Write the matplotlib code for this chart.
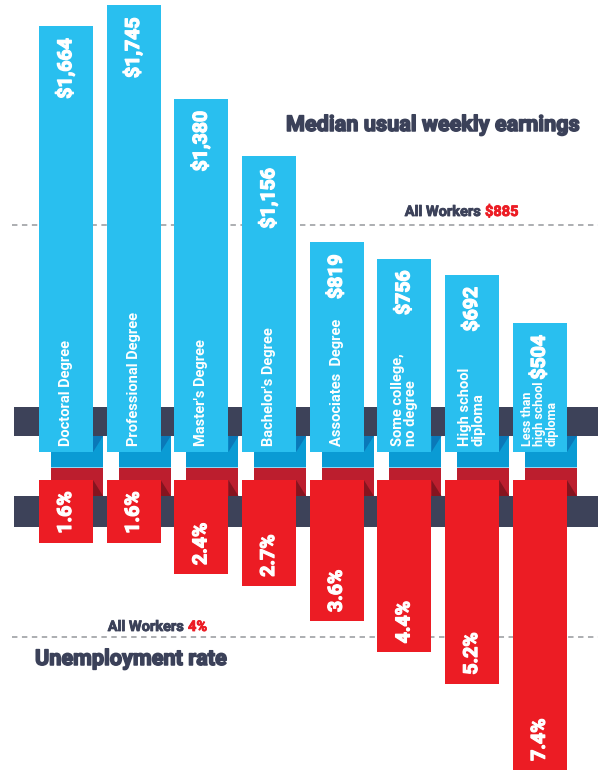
import matplotlib
matplotlib.use("Agg")
import matplotlib.pyplot as plt
import matplotlib.patheffects as pe
import numpy as np

plt.rcParams['font.family'] = ['Roboto', 'DejaVu Sans']

# data
categories = ["Doctoral Degree", "Professional Degree", "Master's Degree",
              "Bachelor's Degree", "Associates  Degree", "Some college,\nno degree",
              "High school\ndiploma", "Less than\nhigh school\ndiploma"]
earnings = [1664, 1745, 1380, 1156, 819, 756, 692, 504]
earn_labels = ["$1,664", "$1,745", "$1,380", "$1,156", "$819", "$756", "$692", "$504"]
unemployment = [1.6, 1.6, 2.4, 2.7, 3.6, 4.4, 5.2, 7.4]
all_workers_earn = 885
all_workers_rate = 4.0

# colours
LIGHT_BLUE = "#29bfef"
DARK_BLUE = "#0a9bd4"
FOLD_BLUE = "#0a78b8"
RED = "#ec1c24"
DARK_RED = "#bc1e2e"
FOLD_RED = "#85141f"
BAND = "#3d4259"
NAVY = "#3b4159"
GREY = "#a6a8ab"


def heavy(color, w=0.9):
    # thicken the glyphs a bit, the original uses a black-weight face
    return [pe.withStroke(linewidth=w, foreground=color)]


W, H = 600, 771
fig = plt.figure(figsize=(6, 7.71), dpi=100)
x = np.arange(len(categories))
xlim = (-0.975, 7.89)
bar_w = 0.8

# background axes: pixel y, category x
ax_bg = fig.add_axes([0, 0, 1, 1])
ax_bg.set_xlim(*xlim)
ax_bg.set_ylim(H, 0)
ax_bg.axis('off')

# folded ribbon blocks behind the bars
off, blk_w = 0.1625, 0.768
ax_bg.bar(x + off, 47, bottom=420, width=blk_w, color=DARK_BLUE, zorder=1)
ax_bg.bar(x + off, 33, bottom=467, width=blk_w, color=DARK_RED, zorder=1)
ax_bg.bar(x + off, 1, bottom=466.5, width=blk_w, color="#8fd6f3", zorder=1.5)
fold = 10 / 67.7
for xi in x:
    xr = xi + bar_w / 2
    ax_bg.fill([xr, xr + fold, xr], [436, 436, 452], color=FOLD_BLUE, lw=0, zorder=2)
    ax_bg.fill([xr, xr + fold, xr], [480, 496, 496], color=FOLD_RED, lw=0, zorder=2)

# dark bands
ax_bg.axhspan(407, 436, xmin=14 / W, xmax=598 / W, color=BAND, lw=0, zorder=3)
ax_bg.axhspan(496, 527, xmin=14 / W, xmax=598 / W, color=BAND, lw=0, zorder=3)

# earnings axes
ax_top = fig.add_axes([0, 1 - 452 / H, 1, 452 / H])
ax_top.set_xlim(*xlim)
ax_top.set_ylim(0, 1766)
ax_top.patch.set_alpha(0)
ax_top.axis('off')
ax_top.axhline(all_workers_earn, xmin=12 / W, xmax=598 / W, color=GREY, lw=1.3,
               ls=(0, (3, 2.5)), zorder=0)
ax_top.bar(x, earnings, width=bar_w, color=LIGHT_BLUE, zorder=2)
for xi, v, lab, cat in zip(x, earnings, earn_labels, categories):
    ax_top.annotate(lab, (xi, v), xytext=(0, -12), textcoords='offset pixels',
                    rotation=90, ha='center', va='top', color='white',
                    fontsize=14, fontweight='bold', zorder=3,
                    path_effects=heavy('white'))
    size = 9 if cat.count("\n") > 1 else 10.5
    ax_top.annotate(cat, (xi, 0), xytext=(0, 6), textcoords='offset pixels',
                    rotation=90, ha='center', va='bottom', color='white',
                    fontsize=size, fontweight='bold', multialignment='left',
                    linespacing=0.95, zorder=3)

# unemployment axes
ax_bot = fig.add_axes([0, 0, 1, (H - 480) / H])
ax_bot.set_xlim(*xlim)
ax_bot.set_ylim(7.43, 0)
ax_bot.patch.set_alpha(0)
ax_bot.axis('off')
ax_bot.axhline(all_workers_rate, xmin=12 / W, xmax=598 / W, color=GREY, lw=1.3,
               ls=(0, (3, 2.5)), zorder=0)
ax_bot.bar(x, unemployment, width=bar_w, color=RED, zorder=2)
for xi, v in zip(x, unemployment):
    ax_bot.annotate(f"{v:.1f}%", (xi, v), xytext=(0, 9), textcoords='offset pixels',
                    rotation=90, ha='center', va='bottom', color='white',
                    fontsize=14, fontweight='bold', zorder=3,
                    path_effects=heavy('white'))

# titles and reference labels
fig.text(286 / W, 1 - 131 / H, "Median usual weekly earnings", ha='left',
         va='baseline', fontsize=15.6, fontweight='bold', color=NAVY,
         path_effects=heavy(NAVY, 1.1))
fig.text(35 / W, 1 - 665 / H, "Unemployment rate", ha='left',
         va='baseline', fontsize=15.6, fontweight='bold', color=NAVY,
         path_effects=heavy(NAVY, 1.1))
fig.text(481 / W, 1 - 216 / H, "All Workers", ha='right', va='baseline',
         fontsize=10.5, fontweight='bold', color=NAVY, path_effects=heavy(NAVY, 0.6))
fig.text(485 / W, 1 - 216 / H, f"${all_workers_earn}", ha='left', va='baseline',
         fontsize=10.5, fontweight='bold', color=RED, path_effects=heavy(RED, 0.6))
fig.text(184 / W, 1 - 631 / H, "All Workers", ha='right', va='baseline',
         fontsize=10.5, fontweight='bold', color=NAVY, path_effects=heavy(NAVY, 0.6))
fig.text(188 / W, 1 - 631 / H, f"{all_workers_rate:.0f}%", ha='left', va='baseline',
         fontsize=10.5, fontweight='bold', color=RED, path_effects=heavy(RED, 0.6))

fig.savefig("out.png", dpi=100)
